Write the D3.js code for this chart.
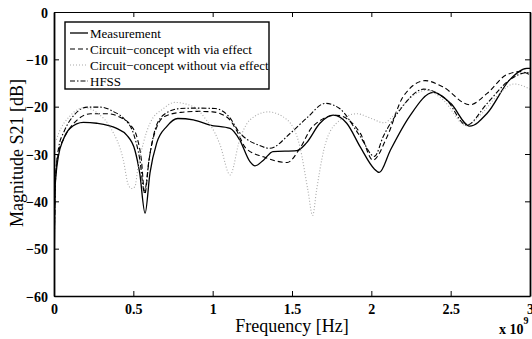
<!DOCTYPE html>
<html>
<head>
<meta charset="utf-8">
<script src="https://cdn.jsdelivr.net/npm/d3@7"></script>
<style>
  body { margin: 0; background: #fff; }
  svg { display: block; font-family: "Liberation Serif", "Times New Roman", serif; }
</style>
</head>
<body>
<div id="chart"></div>
<script>
// frequency in GHz (axis shows x 10^9), magnitude in dB
var measFreq = [0, 0.003, 0.006, 0.027, 0.058, 0.1, 0.185, 0.27, 0.395, 0.458, 0.51, 0.54, 0.574, 0.605, 0.647, 0.71, 0.78, 0.878, 0.983, 1.11, 1.17, 1.235, 1.267, 1.32, 1.38, 1.53, 1.59, 1.676, 1.76, 1.845, 1.93, 2.02, 2.05, 2.12, 2.24, 2.39, 2.5, 2.62, 2.73, 2.87, 2.98, 3.0];
var measDb   = [-57, -47, -37.6, -30.6, -27, -24.6, -23.3, -23.5, -24.6, -26, -29.2, -34, -42.5, -34, -27.7, -24.2, -22.5, -22.8, -23.9, -24.6, -27, -31.6, -32.5, -31.3, -29.5, -29.3, -27.7, -23.5, -21.8, -23.5, -28.5, -33.2, -33.9, -29.2, -22.1, -17.0, -19.3, -24.1, -21.4, -14.4, -11.9, -11.9];

var viaFreq = [0, 0.004, 0.01, 0.03, 0.063, 0.147, 0.23, 0.336, 0.42, 0.483, 0.525, 0.55, 0.572, 0.6, 0.64, 0.7, 0.8, 0.9, 1.0, 1.1, 1.15, 1.21, 1.32, 1.47, 1.55, 1.63, 1.78, 1.93, 2.01, 2.1, 2.2, 2.34, 2.45, 2.62, 2.73, 2.85, 2.94, 3.0];
var viaDb   = [-53, -43, -35, -29.5, -26.7, -22.8, -21.5, -21.5, -22.3, -23.9, -26.7, -31, -38.5, -31, -25, -22, -21.2, -21.0, -21.1, -22.5, -25, -28.8, -30.6, -31.8, -28.8, -24.2, -21.8, -25.6, -31.3, -26.3, -17.9, -14.5, -15.8, -19.6, -17.2, -13.3, -12.6, -13.3];

var noViaFreq = [0.015, 0.03, 0.1, 0.19, 0.28, 0.357, 0.437, 0.468, 0.49, 0.51, 0.53, 0.563, 0.605, 0.69, 0.76, 0.878, 0.96, 1.015, 1.046, 1.11, 1.17, 1.235, 1.35, 1.47, 1.55, 1.6, 1.63, 1.655, 1.7, 1.78, 1.91, 2.0, 2.08, 2.15, 2.25, 2.35, 2.45, 2.6, 2.68, 2.8, 2.9, 3.0];
var noViaDb   = [-27, -25.6, -22, -20.2, -21.5, -24.5, -31.3, -36.5, -37.3, -36.9, -32.7, -27.7, -23.5, -20.4, -19.1, -20, -22.8, -25.6, -28, -34.4, -27, -22.8, -21.1, -22.8, -28.5, -37.6, -43, -37.6, -29.2, -23.5, -21.5, -22.5, -23.4, -21.5, -18, -16.5, -18.5, -24, -22, -17.5, -15.2, -16.3];

var hfssFreq = [0, 0.004, 0.01, 0.03, 0.063, 0.126, 0.21, 0.294, 0.378, 0.44, 0.504, 0.54, 0.57, 0.6, 0.64, 0.7, 0.794, 0.9, 1.015, 1.1, 1.17, 1.22, 1.28, 1.36, 1.49, 1.59, 1.71, 1.8, 1.93, 2.02, 2.075, 2.18, 2.33, 2.475, 2.6, 2.73, 2.87, 2.98, 3.0];
var hfssDb   = [-54, -44, -35, -28.5, -25.3, -21.8, -20.1, -20.1, -21.1, -22.5, -26, -31, -38, -31, -24.5, -21.5, -20.4, -20.3, -20.4, -22, -25.5, -27, -28, -28.8, -25.6, -22.5, -19.3, -20.4, -26.3, -30.5, -26.3, -20.7, -16.3, -18.6, -23.9, -19.3, -14.4, -12.8, -13];

var xTicks = [0, 0.5, 1, 1.5, 2, 2.5, 3];
var yTicks = [-60, -50, -40, -30, -20, -10, 0];

var series = [
  {name: "Measurement", f: measFreq, v: measDb, color: "#000", dash: null, w: 1.3},
  {name: "Circuit\u2212concept with via effect", f: viaFreq, v: viaDb, color: "#000", dash: "5,3", w: 1.1},
  {name: "Circuit\u2212concept without via effect", f: noViaFreq, v: noViaDb, color: "#aaa", dash: "1,2", w: 1.1},
  {name: "HFSS", f: hfssFreq, v: hfssDb, color: "#000", dash: "5,2,1.5,2", w: 1.1}
];

var W = 532, H = 339;
var margin = {top: 12, right: 2, bottom: 43, left: 54},
    width = W - margin.left - margin.right,
    height = H - margin.top - margin.bottom;

var svg = d3.select("#chart").append("svg")
    .attr("width", W)
    .attr("height", H);

var g = svg.append("g")
    .attr("transform", "translate(" + margin.left + "," + margin.top + ")");

var x = d3.scaleLinear().domain([0, 3]).range([0, width]);
var y = d3.scaleLinear().domain([-60, 0]).range([height, 0]);

g.append("clipPath").attr("id", "clip")
  .append("rect").attr("width", width).attr("height", height);

// curves
var line = d3.line()
    .x(function(d) { return x(d[0]); })
    .y(function(d) { return y(d[1]); })
    .curve(d3.curveMonotoneX);

series.forEach(function(s) {
  var pts = s.f.map(function(f, i) { return [f, s.v[i]]; });
  g.append("path")
    .datum(pts)
    .attr("clip-path", "url(#clip)")
    .attr("d", line)
    .attr("fill", "none")
    .attr("stroke", s.color)
    .attr("stroke-width", s.w)
    .attr("stroke-dasharray", s.dash);
});

// axes, matlab style: ticks inside, box all round
var fmt = function(d) { return d3.format("")(d); };
g.append("g")
  .attr("transform", "translate(0," + height + ")")
  .call(d3.axisBottom(x).tickValues(xTicks).tickSizeInner(-5).tickSizeOuter(0).tickPadding(8).tickFormat(fmt))
  .call(function(a) {
    a.select(".domain").attr("stroke-width", 1.6);
    a.selectAll("text").attr("font-size", "14px").attr("font-weight", "bold")
      .attr("font-family", "Liberation Serif, serif").attr("fill", "#000");
  });

g.append("g")
  .call(d3.axisTop(x).tickValues(xTicks).tickSizeInner(-5).tickSizeOuter(0).tickFormat(""))
  .select(".domain").attr("stroke-width", 1.2);

g.append("g")
  .call(d3.axisLeft(y).tickValues(yTicks).tickSizeInner(-5).tickSizeOuter(0).tickPadding(6).tickFormat(fmt))
  .call(function(a) {
    a.select(".domain").attr("stroke-width", 1.8);
    a.selectAll("text").attr("font-size", "14px").attr("font-weight", "bold")
      .attr("font-family", "Liberation Serif, serif").attr("fill", "#000")
      .attr("dy", "0.36em");
  });

g.append("g")
  .attr("transform", "translate(" + width + ",0)")
  .call(d3.axisRight(y).tickValues(yTicks).tickSizeInner(-5).tickSizeOuter(0).tickFormat(""))
  .select(".domain").attr("stroke-width", 1.8);

// axis labels
svg.append("text")
  .attr("x", 292)
  .attr("y", 332)
  .attr("text-anchor", "middle")
  .attr("font-size", "18px")
  .text("Frequency [Hz]");

svg.append("text")
  .attr("transform", "translate(23,153) rotate(-90)")
  .attr("text-anchor", "middle")
  .attr("font-size", "18px")
  .text("Magnitude S21 [dB]");

var expo = svg.append("text")
  .attr("x", 499)
  .attr("y", 334)
  .attr("font-size", "14px")
  .attr("font-weight", "bold");
expo.append("tspan").text("x 10");
expo.append("tspan").attr("dy", -10).attr("font-size", "10px").text("9");

// legend
var leg = svg.append("g").attr("transform", "translate(65,22)");
leg.append("rect")
  .attr("width", 204)
  .attr("height", 67)
  .attr("fill", "#fff")
  .attr("stroke", "#000")
  .attr("stroke-width", 1.4);

series.forEach(function(s, i) {
  var ly = 11 + i * 16;
  leg.append("line")
    .attr("x1", 5).attr("x2", 23)
    .attr("y1", ly).attr("y2", ly)
    .attr("stroke", s.color)
    .attr("stroke-width", s.w)
    .attr("stroke-dasharray", s.dash);
  leg.append("text")
    .attr("x", 25)
    .attr("y", ly + 4.5)
    .attr("font-size", "13px")
    .text(s.name);
});
</script>
</body>
</html>
